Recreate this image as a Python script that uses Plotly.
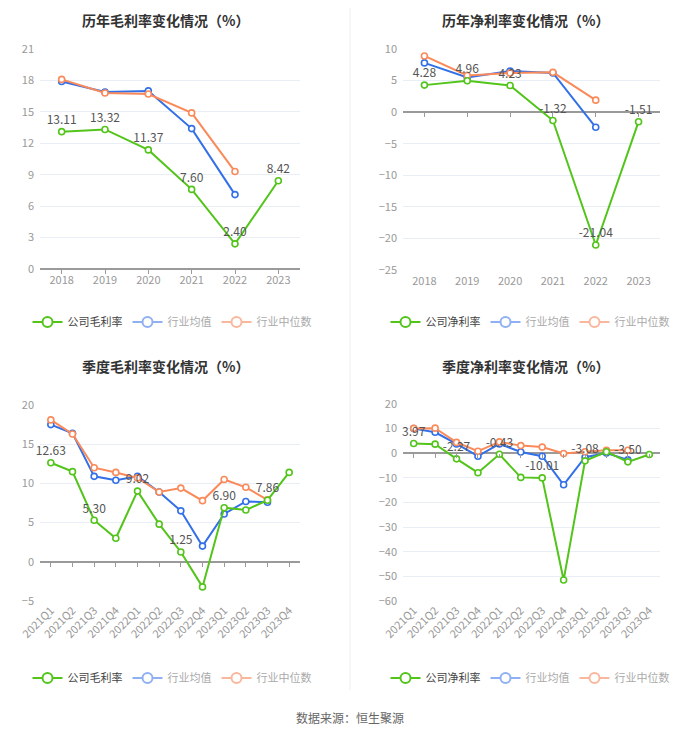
import plotly.graph_objects as go

years = ["2018", "2019", "2020", "2021", "2022", "2023"]
quarters = ["2021Q1", "2021Q2", "2021Q3", "2021Q4", "2022Q1", "2022Q2",
            "2022Q3", "2022Q4", "2023Q1", "2023Q2", "2023Q3", "2023Q4"]

# annual gross margin
ann_gross_company = [13.11, 13.32, 11.37, 7.60, 2.40, 8.42]
ann_gross_avg = [17.9, 16.9, 17.0, 13.4, 7.1, None]
ann_gross_median = [18.1, 16.8, 16.7, 14.9, 9.3, None]

# annual net margin
ann_net_company = [4.28, 4.96, 4.23, -1.32, -21.04, -1.51]
ann_net_avg = [7.8, 5.5, 6.5, 6.2, -2.4, None]
ann_net_median = [8.9, 5.8, 6.2, 6.3, 1.9, None]

# quarterly gross margin
q_gross_company = [12.63, 11.5, 5.30, 3.0, 9.02, 4.8, 1.25, -3.2, 6.90, 6.6, 7.86, 11.4]
q_gross_avg = [17.5, 16.4, 10.9, 10.4, 10.9, 8.9, 6.5, 2.0, 6.1, 7.7, 7.6, None]
q_gross_median = [18.1, 16.3, 12.0, 11.4, 10.7, 8.9, 9.4, 7.8, 10.5, 9.5, 7.9, None]

# quarterly net margin
q_net_company = [3.97, 3.7, -2.27, -7.9, -0.43, -9.8, -10.01, -51.5, -3.08, 0.6, -3.50, -0.5]
q_net_avg = [10.0, 8.5, 3.8, -1.2, 3.8, 0.5, -1.2, -12.8, -1.6, 0.1, -2.7, None]
q_net_median = [10.1, 10.2, 4.4, 0.8, 4.6, 3.1, 2.5, -0.1, 0.6, 1.2, 1.2, None]

titles = ["历年毛利率变化情况（%）", "历年净利率变化情况（%）",
          "季度毛利率变化情况（%）", "季度净利率变化情况（%）"]
company_names = ["公司毛利率", "公司净利率", "公司毛利率", "公司净利率"]
avg_name = "行业均值"
median_name = "行业中位数"

GREEN = "#52c41a"
BLUE = "#3370e8"
ORANGE = "#fa8a5a"
BLUE_L = "#8fb0f3"
ORANGE_L = "#f9b79d"
FONT = "Noto Sans CJK SC"

# page body has an 8px margin; figure sized to fit the 700x733 window
OFF = 8
W, H = 700 - OFF, 733 - OFF


def fx(px):
    return (px - OFF) / W


def fy(py):
    return 1 - (py - OFF) / H


panels = [
    dict(cats=years, comp=ann_gross_company, avg=ann_gross_avg, med=ann_gross_median,
         label_every=1, xd=[fx(40), fx(300)], yd=[fy(269), fy(49)], yr=[0, 21], dt=3, angle=0),
    dict(cats=years, comp=ann_net_company, avg=ann_net_avg, med=ann_net_median,
         label_every=1, xd=[fx(403), fx(660)], yd=[fy(270), fy(49)], yr=[-25, 10], dt=5, angle=0),
    dict(cats=quarters, comp=q_gross_company, avg=q_gross_avg, med=q_gross_median,
         label_every=2, xd=[fx(40), fx(300)], yd=[fy(601), fy(405)], yr=[-5, 20], dt=5, angle=-45),
    dict(cats=quarters, comp=q_net_company, avg=q_net_avg, med=q_net_median,
         label_every=2, xd=[fx(403), fx(660)], yd=[fy(601), fy(404)], yr=[-60, 20], dt=10, angle=-45),
]

legend_pos = [(fx(172), fy(322)), (fx(530), fy(322)), (fx(172), fy(678)), (fx(530), fy(678))]
title_pos = [(fx(165), 1.0, "top"), (fx(525), 1.0, "top"),
             (fx(165), fy(366), "middle"), (fx(525), fy(366), "middle")]

fig = go.Figure()
layout = dict(width=W, height=H, margin=dict(l=0, r=0, t=0, b=0, autoexpand=False),
              paper_bgcolor="white", plot_bgcolor="white",
              font=dict(family=FONT, color="#999999", size=11),
              showlegend=True)
annotations = []

for i, p in enumerate(panels):
    n = i + 1
    xa = "x" if n == 1 else f"x{n}"
    ya = "y" if n == 1 else f"y{n}"
    xt = f"x{n + 4}"
    lg = "legend" if n == 1 else f"legend{n}"
    texts = [(f"{v:.2f}" if (k % p["label_every"] == 0) else "") for k, v in enumerate(p["comp"])]

    def line_trace(y, color, text=None):
        return go.Scatter(
            x=p["cats"], y=y, mode="lines+markers+text" if text else "lines+markers",
            text=text, textposition="top center",
            textfont=dict(color="#555555", size=12, family=FONT),
            line=dict(color=color, width=2),
            marker=dict(symbol="circle", size=6, color="white", line=dict(color=color, width=1.6)),
            xaxis=xa, yaxis=ya, showlegend=False, hoverinfo="skip", cliponaxis=False)

    # invisible carrier so the zero-line tick axis is drawn
    fig.add_trace(go.Scatter(x=p["cats"], y=[None] * len(p["cats"]), mode="lines",
                             xaxis=xt, yaxis=ya, showlegend=False, hoverinfo="skip"))
    fig.add_trace(line_trace(p["avg"], BLUE))
    fig.add_trace(line_trace(p["med"], ORANGE))
    fig.add_trace(line_trace(p["comp"], GREEN, texts))

    # legend entries
    for name, color, tcol in [(company_names[i], GREEN, "#444444"),
                              (avg_name, BLUE_L, "#aaaaaa"),
                              (median_name, ORANGE_L, "#aaaaaa")]:
        fig.add_trace(go.Scatter(
            x=[None], y=[None], mode="lines+markers",
            name=f"<span style='color:{tcol}'>{name}</span>",
            line=dict(color=color, width=2),
            marker=dict(symbol="circle", size=10, color="white", line=dict(color=color, width=2)),
            xaxis=xa, yaxis=ya, legend=lg, showlegend=True))

    xkey = "xaxis" if n == 1 else f"xaxis{n}"
    ykey = "yaxis" if n == 1 else f"yaxis{n}"
    rng = [-0.5, len(p["cats"]) - 0.5]
    layout[xkey] = dict(domain=p["xd"], anchor=ya, type="category", range=rng,
                        showgrid=False, showline=False, zeroline=False, ticks="",
                        tickangle=p["angle"], tickfont=dict(color="#999999", size=11),
                        ticklabelstandoff=3 if p["angle"] == 0 else 0,
                        fixedrange=True, automargin=False)
    y0, y1 = p["yr"]
    zero_pos = p["yd"][0] + (0 - y0) / (y1 - y0) * (p["yd"][1] - p["yd"][0])
    layout[f"xaxis{n + 4}"] = dict(overlaying=xa, anchor="free", position=zero_pos, side="bottom",
                                   type="category", range=rng, showgrid=False, showline=False,
                                   zeroline=False, showticklabels=False, ticks="outside",
                                   ticklen=4, tickwidth=1, tickcolor="#9a9a9a",
                                   fixedrange=True, automargin=False)
    layout[ykey] = dict(domain=p["yd"], anchor=xa, range=p["yr"], dtick=p["dt"], tick0=0,
                        showgrid=True, gridcolor="#e9edf6", gridwidth=1,
                        zeroline=True, zerolinecolor="#9a9a9a", zerolinewidth=1.5,
                        showline=False, ticks="", tickfont=dict(color="#999999", size=11),
                        ticklabelstandoff=5,
                        fixedrange=True, automargin=False)
    lx, lyy = legend_pos[i]
    layout[lg] = dict(orientation="h", x=lx, y=lyy, xanchor="center", yanchor="middle",
                      font=dict(size=11, family=FONT), itemwidth=30, bgcolor="rgba(0,0,0,0)",
                      tracegroupgap=0)
    tx, tyy, tanchor = title_pos[i]
    annotations.append(dict(text=f"<b>{titles[i]}</b>", x=tx, y=tyy, xref="paper", yref="paper",
                            xanchor="center", yanchor=tanchor, showarrow=False,
                            font=dict(size=14, color="#333333", family=FONT)))

annotations.append(dict(text="数据来源：恒生聚源", x=fx(350), y=fy(717), xref="paper", yref="paper",
                        xanchor="center", yanchor="middle", showarrow=False,
                        font=dict(size=12, color="#666666", family=FONT)))
layout["annotations"] = annotations
layout["shapes"] = [dict(type="line", xref="paper", yref="paper", x0=fx(350), x1=fx(350),
                         y0=fy(690), y1=1, line=dict(color="#eeeeee", width=1))]
fig.update_layout(**layout)
fig.write_html("out.html")
